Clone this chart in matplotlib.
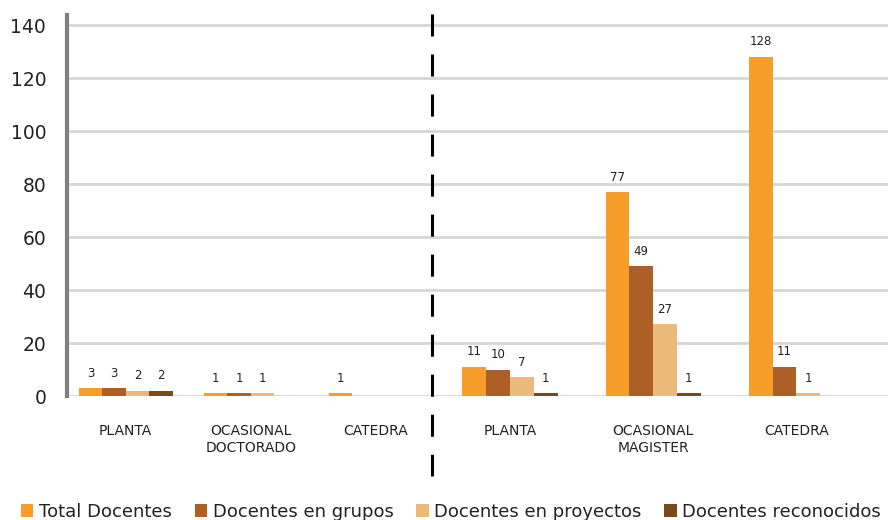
import matplotlib.pyplot as plt
import numpy as np
from matplotlib.lines import Line2D
from matplotlib.patches import Patch

plt.rcParams["font.family"] = ["DejaVu Sans"]

series = ["Total Docentes", "Docentes en grupos", "Docentes en proyectos", "Docentes reconocidos"]
colors = ["#F79E2A", "#AD5F26", "#EBB97A", "#7A4A18"]

left_cats = ["PLANTA", "OCASIONAL\nDOCTORADO", "CATEDRA"]
left_vals = [
    [3, 1, 1],   # Total Docentes
    [3, 1, 0],   # Docentes en grupos
    [2, 1, 0],   # Docentes en proyectos
    [2, 0, 0],   # Docentes reconocidos
]

right_cats = ["PLANTA", "OCASIONAL\nMAGISTER", "CATEDRA"]
right_vals = [
    [11, 77, 128],
    [10, 49, 11],
    [7, 27, 1],
    [1, 1, 0],
]

yticks = [0, 20, 40, 60, 80, 100, 120, 140]

W, H = 895, 520
fig = plt.figure(figsize=(W / 100, H / 100), dpi=100)

bottom = (H - 396) / H
height = (396 - 15) / H
ax_l = fig.add_axes([67 / W, bottom, (432 - 67) / W, height])
ax_r = fig.add_axes([432 / W, bottom, (888 - 432) / W, height], sharey=ax_l)


def draw(ax, cats, vals, width):
    x = np.arange(len(cats))
    for i, (name, color) in enumerate(zip(series, colors)):
        offs = (i - 1.5) * width
        v = np.array(vals[i])
        ax.bar(x + offs, v, width, color=color, zorder=3)
        for xi, vi in zip(x + offs, v):
            if vi > 0:
                ax.text(xi, vi + 3.2, str(vi), ha="center", va="bottom",
                        fontsize=8.5, color="#222222")
    ax.set_xticks(x)
    ax.set_xticklabels(cats, fontsize=10, color="#222222", linespacing=1.3)
    ax.tick_params(axis="x", length=0, pad=20)
    ax.set_ylim(0, 143.8)
    ax.set_yticks(yticks)
    for t in yticks:
        ax.axhline(t, color="#D6D6D6", lw=2, zorder=1)
    for s in ["top", "right", "bottom", "left"]:
        ax.spines[s].set_visible(False)


draw(ax_l, left_cats, left_vals, 0.188)
draw(ax_r, right_cats, right_vals, 0.166)
ax_l.set_xlim(-0.47, 2.45)
ax_r.set_xlim(-0.545, 2.64)

ax_l.spines["left"].set_visible(True)
ax_l.spines["left"].set_color("#7F7F7F")
ax_l.spines["left"].set_linewidth(3)
ax_l.tick_params(axis="y", length=0, pad=15, labelsize=13.5, labelcolor="#222222")
ax_r.tick_params(axis="y", left=False, labelleft=False)

# dashed separator between the two groups
fig.add_artist(Line2D([432 / W, 432 / W], [(H - 14) / H, (H - 476) / H],
                      color="black", lw=2.2, linestyle=(0, (7.2, 5.9))))

handles = [Patch(facecolor=c, edgecolor="none") for c in colors]
fig.legend(handles, series, loc="lower left", ncol=4, frameon=False,
           bbox_to_anchor=(10 / W, -0.022, (892 - 10) / W, 0.05), mode="expand",
           fontsize=13, handlelength=0.7, handleheight=0.7,
           handletextpad=0.3, labelcolor="#222222", borderaxespad=0.2)

fig.savefig("out.png", dpi=100)
